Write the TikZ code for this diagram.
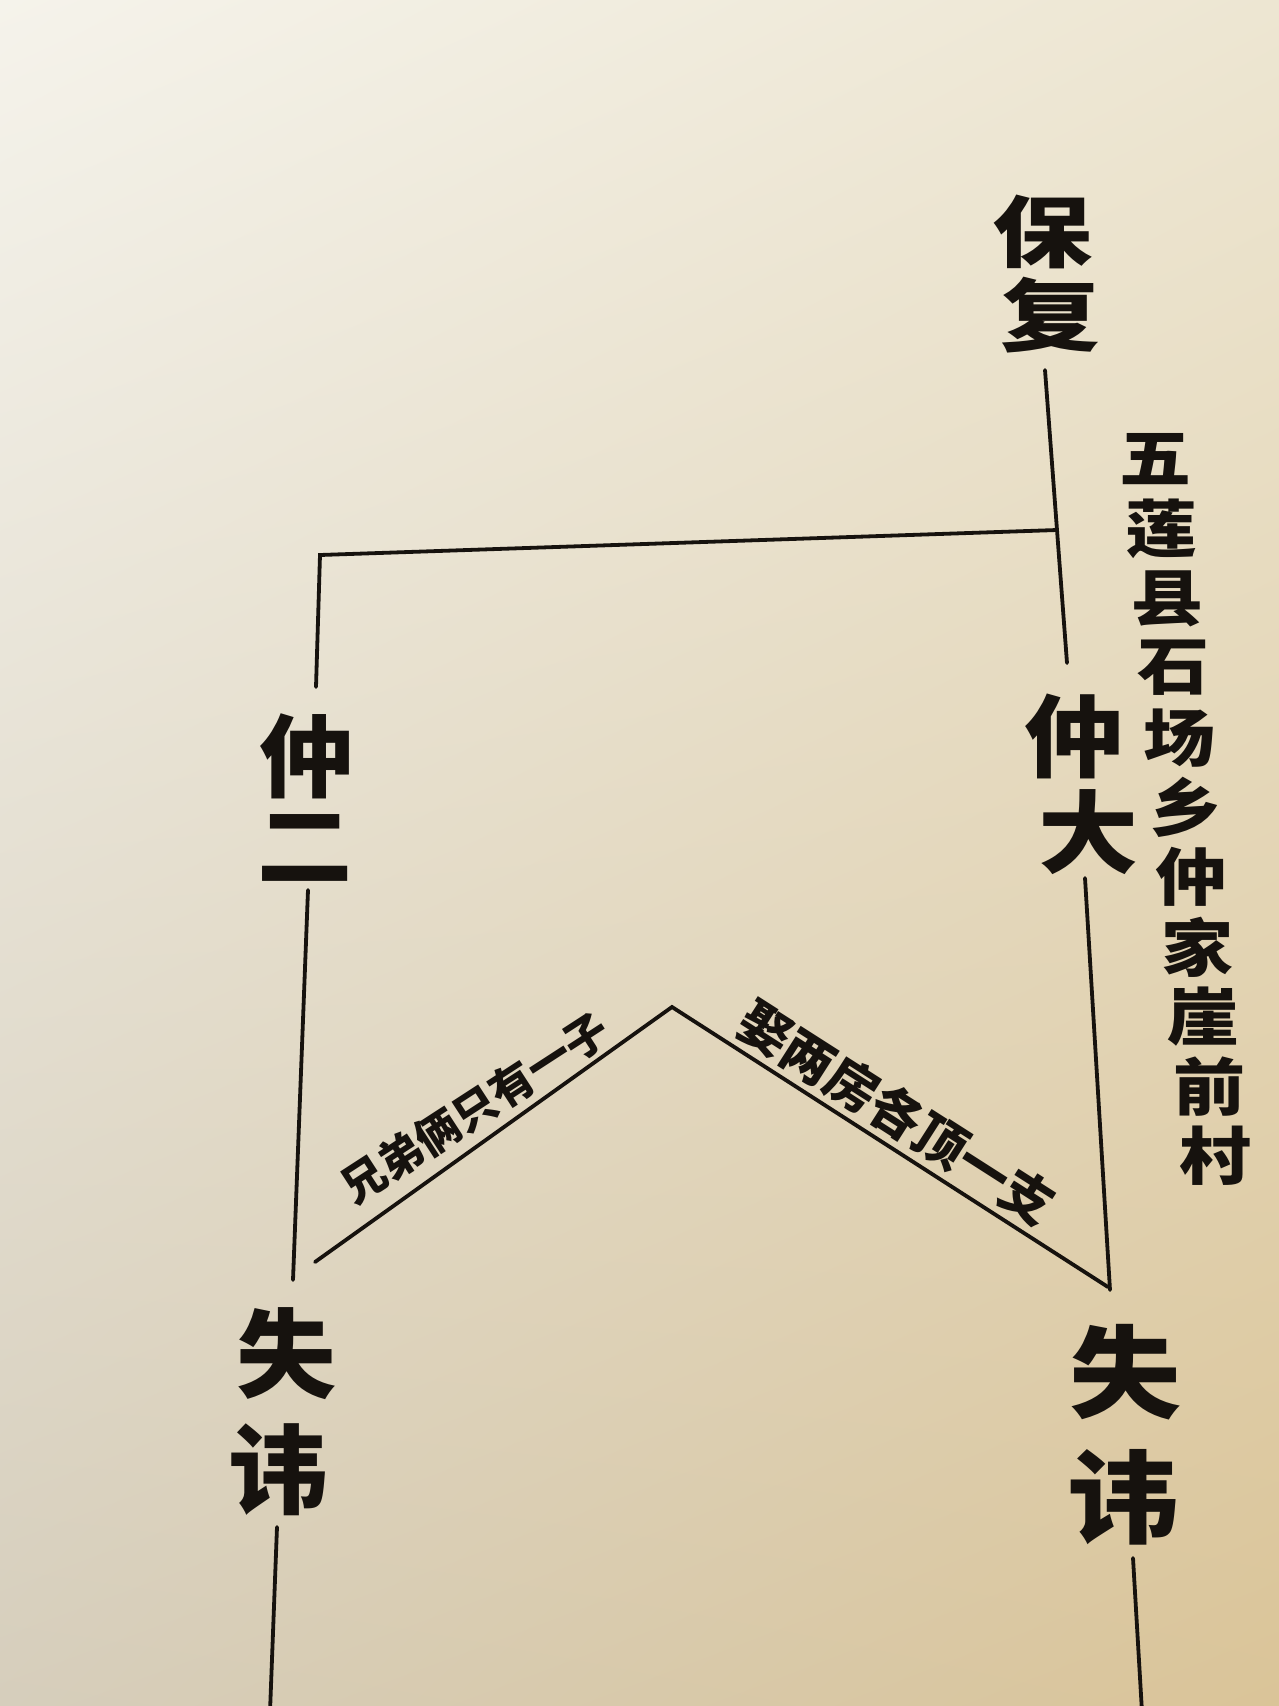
\documentclass[tikz,border=0pt]{standalone}
\usepackage{fontspec}
\usepackage{graphicx}
\usetikzlibrary{shadings}
\newfontfamily\cjk{Noto Sans CJK SC}
\definecolor{ink}{RGB}{22,18,14}
\definecolor{bgUL}{RGB}{245,243,235}
\definecolor{bgUR}{RGB}{237,230,210}
\definecolor{bgLL}{RGB}{214,206,188}
\definecolor{bgLR}{RGB}{218,196,152}
\tikzset{
  ch/.style={text=ink, inner sep=0pt, outer sep=0pt, anchor=center},
  link/.style={draw=ink, line width=3.8pt, line cap=round, line join=miter},
}
\newcommand{\zi}[3]{\fontsize{#1}{#1}\selectfont\cjk\bfseries\scalebox{1}[#2]{#3}}
\begin{document}
\begin{tikzpicture}[x=1pt,y=-1pt]
\shade[upper left=bgUL, upper right=bgUR, lower left=bgLL, lower right=bgLR] (0,0) rectangle (1279,1706);
\useasboundingbox (0,0) rectangle (1279,1706);

% names
\node[ch] (bao) at (1042,232) {\zi{100}{0.78}{保}};
\node[ch] (fu)  at (1050,315) {\zi{100}{0.80}{复}};
\node[ch] (zhongL) at (307,756) {\zi{95}{0.95}{仲}};
\node[ch] (er)     at (305,848) {\zi{95}{0.95}{二}};
\node[ch] (zhongR) at (1074,736) {\zi{100}{0.90}{仲}};
\node[ch] (da)     at (1088,832) {\zi{100}{0.90}{大}};
\node[ch] (shiL) at (286,1354) {\zi{100}{0.97}{失}};
\node[ch] (huiL) at (278,1470) {\zi{100}{0.97}{讳}};
\node[ch] (shiR) at (1125,1372) {\zi{112}{0.90}{失}};
\node[ch] (huiR) at (1123,1497) {\zi{112}{0.90}{讳}};

% place name, vertical
\foreach \c [count=\i from 0] in {五,莲,县,石,场,乡,仲,家,崖,前,村} {
  \node[ch] (place\i) at ({1155+6*\i},{459+69.7*\i}) {\zi{72}{0.87}{\c}};
}

% slanted labels
\node[ch, rotate=33] (lblL) at (475,1108) {\zi{44}{1}{兄弟俩只有一子}};
\node[ch, rotate=-32.6] (lblR) at (897,1113) {\zi{52}{1}{娶两房各顶一支}};

% connector points
\coordinate (baoB) at (1045,370);
\coordinate (jn) at (1057,530);
\coordinate (daT) at (1067,663);
\coordinate (cnL) at (320,555);
\coordinate (erT) at (316,687);
\coordinate (erB) at (308,890);
\coordinate (shiLT) at (293,1280);
\coordinate (daB) at (1085,878);
\coordinate (shiRT) at (1110,1290);
\coordinate (chL) at (315,1262);
\coordinate (apex) at (672,1007);
\coordinate (chR) at (1108,1287);
\coordinate (huiLB) at (277,1527);
\coordinate (endL) at (270,1712);
\coordinate (huiRB) at (1133,1558);
\coordinate (endR) at (1142,1712);

\draw[link] (baoB) -- (jn) -- (daT);
\draw[link] (jn) -- (cnL) -- (erT);
\draw[link] (erB) -- (shiLT);
\draw[link] (daB) -- (shiRT);
\draw[link] (chL) -- (apex) -- (chR);
\draw[link] (huiLB) -- (endL);
\draw[link] (huiRB) -- (endR);
\end{tikzpicture}
\end{document}
